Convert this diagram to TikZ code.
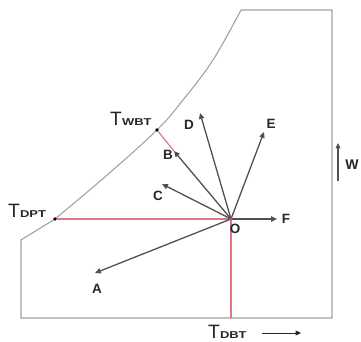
\documentclass[tikz,border=0pt]{standalone}
\usepackage{fontspec}
\setmainfont{Liberation Sans}
\usetikzlibrary{arrows.meta}
\definecolor{outl}{HTML}{A0A0A0}
\definecolor{arr}{HTML}{505050}
\definecolor{redl}{HTML}{E07585}
\newcommand{\Tsub}[1]{{\fontsize{16.5}{17}\selectfont T}{\fontsize{8.5}{9}\selectfont\bfseries\scalebox{1.3}[1]{#1}}}
\tikzset{
  outline/.style={draw=outl, line width=0.9pt},
  vec/.style={draw=arr, line width=1.1pt, -{Triangle[length=5pt,width=4.5pt]}},
  redline/.style={draw=redl, line width=1pt},
  lab/.style={font=\bfseries\fontsize{11.5}{12}\selectfont, text=black!85, inner sep=0pt},
  dot/.style={circle, fill=black, inner sep=0pt, minimum size=3pt},
  big/.style={inner sep=0pt, text=black!85, anchor=base west}
}
\begin{document}
\begin{tikzpicture}[x=0.03cm,y=-0.03cm]
\useasboundingbox (0,0) rectangle (361,342);
\fill[white] (0,0) rectangle (361,342);
% outline
\draw[outline] (55,219) -- (21,240) -- (21,318) -- (332,318) -- (332,10) -- (241,10);
\draw[outline] plot[smooth, tension=0.6] coordinates {(55,219) (106,176) (157,130) (183,100) (213,60) (241,10)};
% key points
\coordinate (O) at (231,219);
\coordinate (bot) at (231,318);
\node[dot] (dpt) at (55,219) {};
\node[dot] (wbt) at (157,130) {};
\coordinate (B) at (174,151);
\coordinate (A) at (95,273);
\coordinate (C) at (162,184);
\coordinate (D) at (200,113);
\coordinate (E) at (264,132);
\coordinate (F) at (277,219);
% red lines
\draw[redline] (dpt) -- (O);
\draw[redline] (O) -- (bot);
\draw[redline] (wbt) -- (B);
% vectors
\draw[vec] (O) -- (A);
\draw[vec] (O) -- (C);
\draw[vec] (O) -- (B);
\draw[vec] (O) -- (D);
\draw[vec] (O) -- (E);
\draw[vec] (O) -- (F);
\fill[redl!80!black] (O) circle (1.3pt);
% labels
\node[lab] (lA) at (97,289) {A};
\node[lab] (lB) at (168,155) {B};
\node[lab] (lC) at (158,196) {C};
\node[lab] (lD) at (189,125) {D};
\node[lab] (lE) at (271,124) {E};
\node[lab] (lF) at (286,219) {F};
\node[lab] (lO) at (235,229) {O};
\node[lab, font=\bfseries\fontsize{12}{13}\selectfont] (lW) at (352,165) {W};
% W arrow
\coordinate (w1) at (338,181);
\coordinate (w2) at (338,143);
\draw[draw=arr, line width=0.9pt, -{Triangle[length=4.5pt,width=4pt]}] (w1) -- (w2);
% T labels
\node[big] (twbt) at (110,126) {\Tsub{WBT}};
\node[big] (tdpt) at (8,218) {\Tsub{DPT}};
\node[big] (tdbt) at (208,338) {\Tsub{DBT}};
\coordinate (d1) at (262,333);
\coordinate (d2) at (301,333);
\draw[draw=black!85, line width=0.8pt, -{Triangle[length=4.5pt,width=4pt]}] (d1) -- (d2);
\end{tikzpicture}
\end{document}
